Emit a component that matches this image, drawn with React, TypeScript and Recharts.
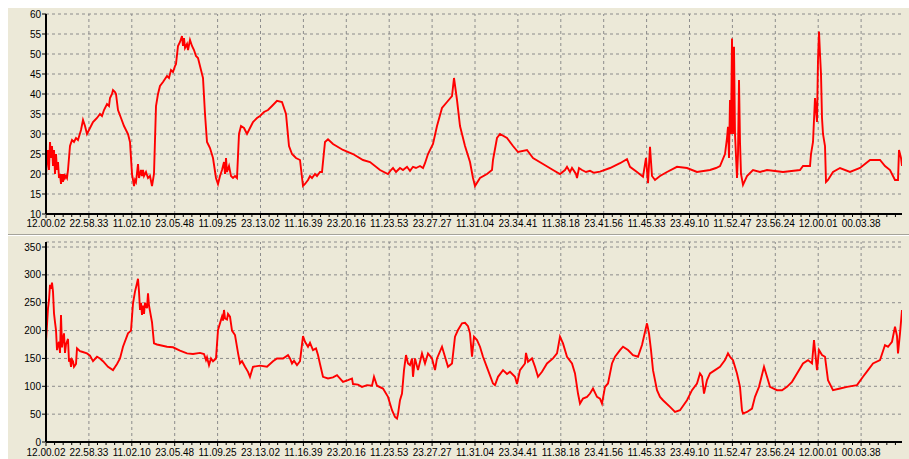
import { CartesianGrid, Line, LineChart, ReferenceLine, XAxis, YAxis } from 'recharts';

// x is a sample index across the plot (0..856), one labelled tick every 42.9 samples
const SAMPLE_MAX = 856;
const MAJOR = 42.9;

const xLabels = [
  '12.00.02', '22.58.33', '11.02.10', '23.05.48', '11.09.25', '23.13.02', '11.16.39',
  '23.20.16', '11.23.53', '23.27.27', '11.31.04', '23.34.41', '11.38.18', '23.41.56',
  '11.45.33', '23.49.10', '11.52.47', '23.56.24', '12.00.01', '00.03.38'
];

const topTicks = [10, 15, 20, 25, 30, 35, 40, 45, 50, 55, 60];
const bottomTicks = [0, 50, 100, 150, 200, 250, 300, 350];

const topSeries: [number, number][] = [
  [0, 20], [1, 23], [2, 26], [3, 21], [4, 28], [5, 24], [6, 27], [7, 22], [8, 26], [9, 20], [10, 25],
  [11, 21], [12, 23], [13, 19], [14, 20], [15, 17.5], [16, 20], [17, 18], [18, 20], [19, 19], [20, 19.5],
  [21, 19], [22, 21], [24, 27], [26, 28.5], [28, 28], [30, 29], [32, 28.5], [35, 31], [37, 33.5], [39, 32],
  [41, 30], [44, 31.5], [47, 33], [49, 33.5], [51, 34], [54, 35], [56, 34.5], [58, 36], [61, 37.5], [63, 37],
  [64, 39], [66, 40], [67, 41], [69, 40.5], [70, 40], [72, 36], [75, 34], [78, 32], [82, 30], [84, 28],
  [86, 20], [88, 17], [89, 18.5], [90, 18], [92, 22.5], [93, 19], [95, 21], [96, 19.5], [97, 21], [98, 19.5],
  [100, 20.5], [102, 19], [104, 19.5], [106, 17], [108, 20], [110, 37], [112, 40], [114, 42], [117, 43],
  [121, 44.5], [123, 44], [125, 46], [127, 45.5], [129, 47], [130, 47.5], [132, 52], [134, 53], [136, 54.5],
  [137, 52], [138, 54], [139, 51.5], [141, 52.5], [142, 51], [144, 53.5], [146, 52], [148, 51], [150, 49.5],
  [152, 49], [153, 48], [155, 46], [157, 44], [159, 35], [161, 28], [163, 27], [164, 26.5], [167, 24],
  [170, 19], [172, 17.5], [174, 19.5], [176, 21], [178, 23], [179, 20], [180, 24], [181, 20.5], [183, 22],
  [185, 19.5], [187, 19], [189, 19.5], [191, 19], [193, 30], [195, 32], [198, 31.5], [201, 30], [204, 31.5],
  [207, 33], [211, 34], [214, 34.5], [218, 35.5], [222, 36], [226, 37], [231, 38.3], [236, 38], [240, 35],
  [243, 27], [246, 25], [250, 24], [254, 23.5], [257, 17], [259, 17.5], [262, 18.5], [264, 19.5], [266, 19],
  [269, 20], [271, 19.5], [274, 20.5], [276, 20.5], [279, 28], [282, 28.7], [287, 27.5], [297, 26], [307, 25],
  [317, 23.5], [324, 23], [334, 21], [342, 20], [345, 21], [347, 21.5], [350, 20.5], [354, 21.5], [357, 21],
  [361, 21.8], [364, 20.8], [367, 21.8], [370, 21.5], [374, 22], [377, 21.5], [379, 22.7], [382, 25],
  [387, 27.5], [391, 32], [396, 36.5], [401, 38], [406, 39.5], [408, 44], [411, 38.5], [414, 32], [419, 27],
  [424, 23], [427, 19], [429, 17], [434, 19], [441, 20], [446, 21], [447, 23.5], [451, 29], [454, 30],
  [461, 29], [467, 27], [472, 25.5], [481, 26], [487, 24], [497, 22.5], [507, 21], [514, 20], [519, 21],
  [521, 21.8], [524, 20.5], [526, 21.5], [530, 20], [531, 19], [533, 21.5], [536, 21], [540, 20.5],
  [544, 20.8], [548, 20.3], [554, 20.6], [564, 21.5], [574, 22.7], [581, 23.7], [584, 21.8], [591, 20.5],
  [597, 19.3], [600, 24], [602, 17.7], [604, 26.8], [606, 19.5], [609, 18.5], [614, 19.5], [621, 20.5],
  [631, 21.8], [641, 21.5], [651, 20.5], [664, 21], [670, 21.5], [674, 22], [679, 25], [681, 29], [682, 31.8],
  [683, 24], [684, 38.5], [685, 30], [686, 53.9], [687, 30], [688, 51.8], [689, 30], [691, 19], [692, 25],
  [693, 43.5], [694, 28], [695, 20], [697, 17.3], [701, 19.5], [707, 21], [714, 20.5], [721, 21], [737, 20.5],
  [754, 21], [757, 22], [764, 22], [765, 25], [767, 28], [769, 39], [771, 33], [772, 48.5], [773, 55.6],
  [774, 50], [775, 45], [776, 34], [777, 30], [779, 27], [780, 18], [782, 18.5], [787, 20.5], [794, 21.5],
  [804, 20.5], [814, 21.5], [824, 23.5], [834, 23.5], [839, 22], [844, 21], [849, 18.5], [852, 18.5],
  [853, 26], [855, 24], [856, 22]
];

const bottomSeries: [number, number][] = [
  [0, 180], [2, 240], [3, 255], [4, 282], [5, 275], [6, 286], [7, 270], [8, 231], [9, 215], [10, 201],
  [11, 165], [12, 175], [13, 180], [14, 160], [15, 228], [16, 170], [17, 185], [18, 195], [19, 160],
  [20, 175], [22, 185], [23, 144], [24, 150], [25, 135], [26, 148], [27, 145], [28, 135], [30, 140],
  [31, 168], [34, 163], [36, 162], [41, 159], [44, 155], [47, 145], [51, 153], [54, 150], [57, 145],
  [62, 135], [67, 129], [71, 140], [74, 150], [77, 171], [82, 195], [85, 200], [87, 249], [89, 270],
  [91, 285], [92, 293], [93, 270], [94, 237], [95, 250], [96, 228], [97, 245], [98, 230], [99, 250],
  [101, 240], [102, 267], [103, 245], [104, 235], [106, 215], [108, 177], [111, 175], [121, 171], [127, 170],
  [134, 164], [141, 159], [147, 158], [154, 160], [158, 158], [160, 147], [161, 152], [163, 138], [165, 150],
  [167, 145], [170, 150], [172, 201], [176, 225], [177, 218], [178, 237], [179, 222], [181, 220], [182, 230],
  [184, 225], [186, 200], [189, 192], [192, 160], [194, 141], [196, 145], [199, 135], [202, 126], [204, 117],
  [207, 135], [214, 137], [221, 135], [227, 145], [231, 150], [237, 150], [242, 156], [244, 150], [246, 141],
  [248, 146], [251, 138], [254, 145], [257, 190], [259, 180], [262, 171], [264, 178], [267, 165], [270, 168],
  [272, 156], [274, 140], [277, 117], [282, 114], [287, 116], [291, 120], [297, 108], [302, 111], [306, 114],
  [307, 104], [312, 103], [316, 99], [321, 102], [326, 101], [328, 117], [331, 101], [337, 96], [342, 81],
  [346, 57], [349, 45], [351, 42], [352, 50], [354, 75], [356, 87], [358, 129], [360, 156], [362, 141],
  [364, 138], [366, 150], [367, 117], [369, 150], [372, 129], [376, 159], [379, 141], [382, 159], [386, 150],
  [389, 129], [391, 150], [396, 171], [399, 153], [402, 135], [406, 141], [409, 189], [412, 201], [416, 213],
  [419, 214], [422, 208], [424, 195], [426, 153], [428, 189], [431, 183], [434, 171], [437, 153], [442, 129],
  [447, 105], [449, 102], [452, 117], [457, 129], [461, 122], [464, 126], [469, 117], [471, 104], [474, 129],
  [479, 141], [480, 160], [482, 144], [486, 150], [489, 135], [492, 117], [496, 126], [501, 141], [507, 150],
  [511, 159], [514, 189], [517, 177], [521, 153], [526, 141], [529, 123], [532, 87], [534, 69], [537, 78],
  [541, 81], [544, 87], [547, 96], [551, 81], [554, 78], [556, 69], [559, 99], [562, 105], [566, 141],
  [569, 153], [574, 165], [577, 171], [582, 165], [587, 156], [592, 153], [596, 174], [601, 213], [603, 195],
  [605, 165], [607, 129], [611, 93], [614, 81], [617, 75], [624, 63], [629, 54], [634, 57], [641, 75],
  [646, 93], [651, 105], [654, 123], [656, 118], [658, 87], [661, 111], [664, 123], [669, 129], [674, 135],
  [679, 147], [682, 159], [684, 153], [687, 147], [691, 123], [694, 99], [696, 57], [697, 51], [701, 54],
  [706, 60], [709, 81], [713, 99], [718, 135], [721, 117], [724, 99], [731, 93], [736, 93], [741, 99],
  [746, 108], [751, 123], [757, 141], [762, 147], [766, 141], [768, 183], [771, 129], [773, 165], [776, 156],
  [779, 153], [782, 111], [787, 93], [794, 96], [801, 99], [811, 102], [817, 117], [822, 129], [827, 141],
  [834, 147], [839, 174], [842, 171], [846, 180], [849, 207], [851, 190], [852, 159], [854, 195], [856, 237]
];

const BG = '#ECE9D8';
const GRID = '#8c8c8c';
const FONT = '"Liberation Sans", Arial, sans-serif';

const minorTicks = Array.from({ length: 100 }, (_, k) => (k * MAJOR) / 5).filter((v) => v <= SAMPLE_MAX);
const majorTicks = xLabels.map((_, i) => i * MAJOR);

function makeXTick(labelGap: number) {
  return (props: any) => {
    const { x, y, payload } = props;
    const k = Math.round(payload.value / (MAJOR / 5));
    const isMajor = k % 5 === 0;
    return (
      <g>
        <line x1={x} x2={x} y1={y + 1} y2={y + (isMajor ? 4 : 3)} stroke="#000" />
        {isMajor && (
          <text x={x} y={y + labelGap} textAnchor="middle" fontSize={10} fill="#000" fontFamily={FONT}>
            {xLabels[k / 5]}
          </text>
        )}
      </g>
    );
  };
}

type PanelProps = {
  data: [number, number][];
  height: number;
  domain: [number, number];
  ticks: number[];
  axisHeight: number;
  labelGap: number;
  dashedTop: boolean;
};

function Panel({ data, height, domain, ticks, axisHeight, labelGap, dashedTop }: PanelProps) {
  const rows = data.map(([s, v]) => ({ s, v }));
  return (
    <LineChart width={901} height={height} data={rows} margin={{ top: 6, right: 7, bottom: 0, left: 0 }}>
      <CartesianGrid vertical={false} stroke={GRID} strokeDasharray="3 3" />
      {majorTicks.slice(1).map((t) => (
        <ReferenceLine key={t} x={t} stroke={GRID} strokeDasharray="3 3" />
      ))}
      <XAxis
        xAxisId="top"
        orientation="top"
        dataKey="s"
        type="number"
        domain={[0, SAMPLE_MAX]}
        height={0}
        tick={false}
        tickLine={false}
        axisLine={{ stroke: '#333', strokeDasharray: dashedTop ? '3 2' : undefined }}
      />
      <XAxis
        dataKey="s"
        type="number"
        domain={[0, SAMPLE_MAX]}
        allowDataOverflow
        ticks={minorTicks}
        interval={0}
        tickSize={0}
        tickMargin={0}
        tickLine={false}
        height={axisHeight}
        axisLine={{ stroke: '#000', strokeWidth: 2 }}
        tick={makeXTick(labelGap)}
      />
      <YAxis
        type="number"
        domain={domain}
        ticks={ticks}
        interval={0}
        allowDataOverflow
        width={38}
        tickSize={4}
        tickMargin={1}
        tickLine={{ stroke: '#000' }}
        axisLine={{ stroke: '#000', strokeWidth: 2 }}
        tick={{ fontSize: 10, fill: '#000', fontFamily: FONT }}
      />
      <YAxis
        yAxisId="right"
        orientation="right"
        type="number"
        domain={[0, 1]}
        width={0}
        tick={false}
        tickLine={false}
        axisLine={{ stroke: '#333' }}
      />
      <Line
        type="linear"
        dataKey="v"
        stroke="#ff0000"
        strokeWidth={1.9}
        dot={false}
        isAnimationActive={false}
      />
    </LineChart>
  );
}

export default function App() {
  return (
    <div style={{ position: 'absolute', left: 8, top: 8, width: 901, height: 451, background: BG, fontFamily: FONT }}>
      <Panel data={topSeries} height={226} domain={[10, 60]} ticks={topTicks} axisHeight={20} labelGap={13} dashedTop />
      <div style={{ height: 1, background: '#a5a39a', borderBottom: '1px solid #fff' }} />
      <Panel
        data={bottomSeries}
        height={222}
        domain={[0, 359]}
        ticks={bottomTicks}
        axisHeight={16}
        labelGap={14}
        dashedTop={false}
      />
    </div>
  );
}
